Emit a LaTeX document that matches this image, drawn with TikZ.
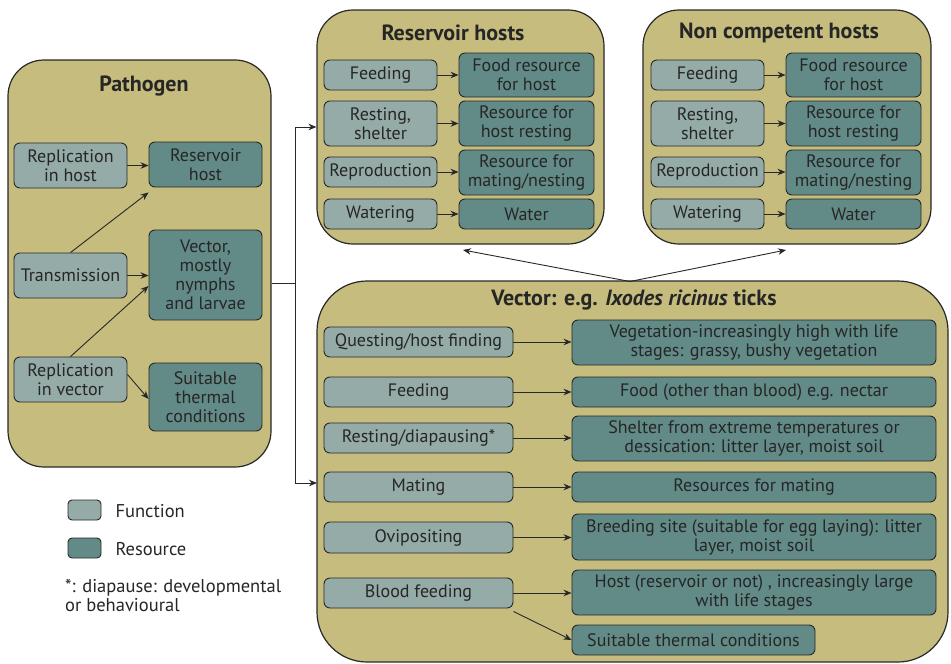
\documentclass[tikz,border=0pt]{standalone}
\usepackage{fontspec}
\setmainfont{PT Sans}
\usetikzlibrary{arrows.meta}
\definecolor{khaki}{RGB}{197,188,126}
\definecolor{fncol}{RGB}{149,171,167}
\definecolor{rescol}{RGB}{98,138,134}
\definecolor{edge}{RGB}{40,40,40}
\tikzset{
  cont/.style={draw=edge, line width=1.2pt, fill=khaki, rounded corners=36pt, inner sep=0pt},
  fnbox/.style={draw=edge, line width=0.9pt, fill=fncol, rounded corners=6pt, inner sep=0pt, align=center,
    font=\fontsize{18}{19}\selectfont, text=black!85},
  resbox/.style={draw=edge, line width=0.9pt, fill=rescol, rounded corners=6pt, inner sep=0pt, align=center,
    font=\fontsize{18}{19}\selectfont, text=black!85},
  ttl/.style={font=\fontsize{22}{24}\selectfont\bfseries, text=black!85},
  arr/.style={draw=edge, line width=0.9pt, -{Stealth[length=8pt,width=6.5pt]}},
  ln/.style={draw=edge, line width=0.9pt},
  lbl/.style={font=\fontsize{18.5}{19}\selectfont, text=black!85, anchor=west, align=left},
}
\begin{document}
\begin{tikzpicture}[x=1pt,y=-1pt]
\useasboundingbox (0,0) rectangle (951,664);
% containers
\node[cont, minimum width=263pt, minimum height=407pt] (path) at (139.5,263.5) {};
\node[cont, minimum width=287pt, minimum height=234pt] (res) at (460.5,127) {};
\node[cont, minimum width=288pt, minimum height=234pt] (nch) at (787,127) {};
\node[cont, rounded corners=50pt, minimum width=631pt, minimum height=381pt] (vect) at (632.5,471.5) {};
% titles
\node[ttl] (tpath) at (144,86) {Pathogen};
\node[ttl] (tres) at (453,33) {Reservoir hosts};
\node[ttl] (tnch) at (779,33) {Non competent hosts};
\node[ttl] (tvec) at (634,300) {Vector: e.g. \textit{Ixodes ricinus} ticks};
% pathogen
\node[fnbox, minimum width=113pt, minimum height=45pt] (rih) at (70.5,165.5) {Replication\\in host};
\node[fnbox, minimum width=113pt, minimum height=45pt] (tr) at (70.5,275.5) {Transmission};
\node[fnbox, minimum width=113pt, minimum height=45pt] (riv) at (70.5,379.5) {Replication\\in vector};
\node[resbox, minimum width=113pt, minimum height=45pt] (rh) at (205.5,164.5) {Reservoir\\host};
\node[resbox, minimum width=113pt, minimum height=90pt] (vn) at (205.5,275) {Vector,\\mostly\\nymphs\\and larvae};
\node[resbox, minimum width=113pt, minimum height=68pt] (stc) at (205.5,397) {Suitable\\thermal\\conditions};
\draw[arr] (rih.east) -- (rih.east -| rh.west);
\draw[arr] (tr.north) -- ([yshift=-5pt]rh.south west);
\draw[arr] (tr.east) -- (tr.east -| vn.west);
\draw[arr] (riv.north) -- ([yshift=-11pt]vn.west);
\draw[arr] ([yshift=5pt]riv.east) -- ([yshift=-2pt]stc.west);
% reservoir hosts
\foreach \nm/\dx in {r/0, n/327}{
  \node[fnbox, minimum width=113pt, minimum height=30pt] (\nm f1) at (380.5+\dx,75) {Feeding};
  \node[fnbox, minimum width=113pt, minimum height=45pt] (\nm f2) at (380.5+\dx,123.5) {Resting,\\shelter};
  \node[fnbox, minimum width=113pt, minimum height=30pt] (\nm f3) at (380.5+\dx,172) {Reproduction};
  \node[fnbox, minimum width=113pt, minimum height=30pt] (\nm f4) at (380.5+\dx,214) {Watering};
  \node[resbox, minimum width=135pt, minimum height=44pt] (\nm r1) at (526.5+\dx,75) {Food resource\\for host};
  \node[resbox, minimum width=135pt, minimum height=45pt] (\nm r2) at (526.5+\dx,123.5) {Resource for\\host resting};
  \node[resbox, minimum width=135pt, minimum height=45pt] (\nm r3) at (526.5+\dx,172.5) {Resource for\\mating/nesting};
  \node[resbox, minimum width=135pt, minimum height=30pt] (\nm r4) at (526.5+\dx,214) {Water};
  \foreach \i in {1,...,4}{\draw[arr] (\nm f\i.east) -- (\nm f\i.east -| \nm r\i.west);}
}
% vector
\node[fnbox, minimum width=189pt, minimum height=30pt] (vf1) at (418.5,342) {Questing/host finding};
\node[fnbox, minimum width=189pt, minimum height=30pt] (vf2) at (418.5,392) {Feeding};
\node[fnbox, minimum width=189pt, minimum height=30pt] (vf3) at (418.5,438) {Resting/diapausing*};
\node[fnbox, minimum width=189pt, minimum height=30pt] (vf4) at (418.5,487) {Mating};
\node[fnbox, minimum width=189pt, minimum height=31pt] (vf5) at (418.5,537.5) {Ovipositing};
\node[fnbox, minimum width=189pt, minimum height=30pt] (vf6) at (418.5,593) {Blood feeding};
\node[resbox, minimum width=364pt, minimum height=45pt] (vr1) at (754,342.5) {Vegetation-increasingly high with life\\stages: grassy, bushy vegetation};
\node[resbox, minimum width=364pt, minimum height=30pt] (vr2) at (754,392) {Food (other than blood) e.g. nectar};
\node[resbox, minimum width=364pt, minimum height=45pt] (vr3) at (754,438.5) {Shelter from extreme temperatures or\\dessication: litter layer, moist soil};
\node[resbox, minimum width=364pt, minimum height=30pt] (vr4) at (754,487) {Resources for mating};
\node[resbox, minimum width=364pt, minimum height=46pt] (vr5) at (754,537) {Breeding site (suitable for egg laying): litter\\layer, moist soil};
\node[resbox, minimum width=364pt, minimum height=45pt] (vr6) at (754,592.5) {Host (reservoir or not) , increasingly large\\with life stages};
\node[resbox, minimum width=243pt, minimum height=30pt] (vr7) at (693.5,640) {Suitable thermal conditions};
\foreach \i in {1,...,6}{\draw[arr] (vf\i.east) -- (vf\i.east -| vr\i.west);}
\draw[arr] ([yshift=-3pt]vf6.south east) -- (vr7.west);
% links between containers
\coordinate (j) at (295,283);
\coordinate (vin) at (317,483);
\draw[ln] (path.east |- j) -- (j);
\draw[arr] (j) |- (res.west);
\draw[arr] (j) |- (vin);
\coordinate (vtop) at (630,281.5);
\draw[arr] (vtop) -- (463,250);
\draw[arr] (vtop) -- (786,250);
% legend
\node[fnbox, minimum width=33pt, minimum height=20pt, rounded corners=4pt] (lf) at (84.5,510) {};
\node[resbox, minimum width=33pt, minimum height=20pt, rounded corners=4pt] (lr) at (84.5,548) {};
\node[lbl] (lft) at (112,511) {Function};
\node[lbl] (lrt) at (112,549) {Resource};
\node[lbl, inner sep=0pt] (note) at (65,595) {*: diapause: developmental\\or behavioural};
\end{tikzpicture}
\end{document}
